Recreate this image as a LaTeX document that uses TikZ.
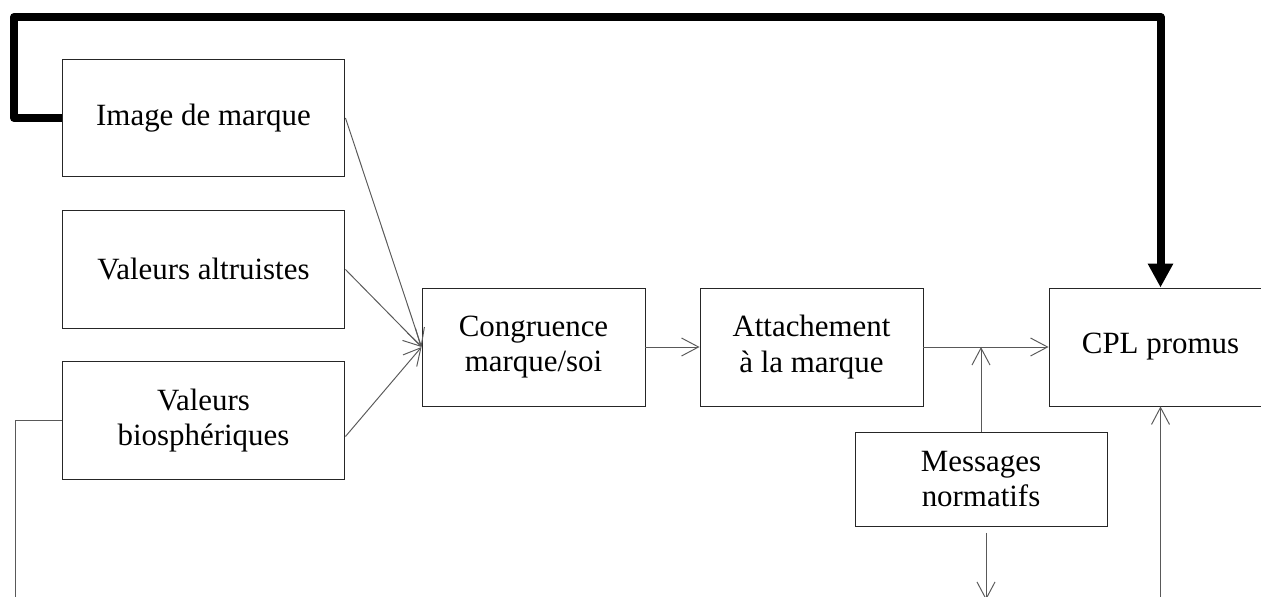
\documentclass[tikz,border=0pt]{standalone}
\usepackage{fontspec}
\setmainfont{Liberation Serif}
\usetikzlibrary{arrows.meta}
\begin{document}
\begin{tikzpicture}[x=0.02cm,y=-0.02cm]
        \tikzset{
          boite/.style={draw=black!85,line width=0.55pt,inner sep=0pt,align=center,
            font=\fontsize{17.6}{20.4}\selectfont},
          large/.style={boite,minimum width=5.66cm,minimum height=2.35cm},
          moyen/.style={boite,minimum width=4.46cm,minimum height=2.36cm},
          fleche/.style={draw=black!65,line width=0.55pt,-{Straight Barb[length=0.34cm,width=0.36cm]}},
          lien/.style={draw=black!65,line width=0.55pt},
          epais/.style={line width=0.16cm,line join=round,-{Triangle[length=0.48cm,width=0.48cm]}}
        }
        \useasboundingbox (0,0) rectangle (1261,597);
        \clip (0,0) rectangle (1261,597);

        %BOITES
        \node[large] (image) at (203.5,118) {Image de marque};
        \node[large] (altru) at (203.5,269.5) {Valeurs altruistes};
        \node[large] (bio) at (203.5,420.5) {Valeurs\\biosphériques};
        \node[moyen] (congru) at (533.5,347) {Congruence\\marque/soi};
        \node[moyen] (attach) at (811.5,347) {Attachement\\à la marque};
        \node[moyen] (cpl) at (1160.5,347) {CPL promus};
        \node[boite,minimum width=5.04cm,minimum height=1.88cm] (msg) at (981,479) {Messages\\normatifs};

        %BOUTS LIBRES
        \coordinate (coin) at (14,17);
        \coordinate (gauche) at (15,610);
        \coordinate (msgbas) at (986,533);
        \coordinate (sortie) at (986,600);
        \coordinate (cplbas) at (1160.5,610);

        %FLECHES
        \draw[fleche] (image.east) -- (congru.west);
        \draw[fleche] (altru.east) -- (congru.west);
        \draw[fleche] ([yshift=-0.32cm]bio.east) -- (congru.west);
        \draw[fleche] (congru) -- (attach);
        \draw[fleche] (attach) -- (cpl);
        \draw[fleche] (msg.north) -- (msg.north |- attach.east);
        \draw[fleche] (msgbas) -- (sortie);
        \draw[fleche] (cplbas) -- (cpl.south);
        \draw[lien] (bio.west) -| (gauche);

        %RETOUR
        \draw[epais] (image.west) -| (coin) -| (cpl.north);
\end{tikzpicture}
\end{document}
